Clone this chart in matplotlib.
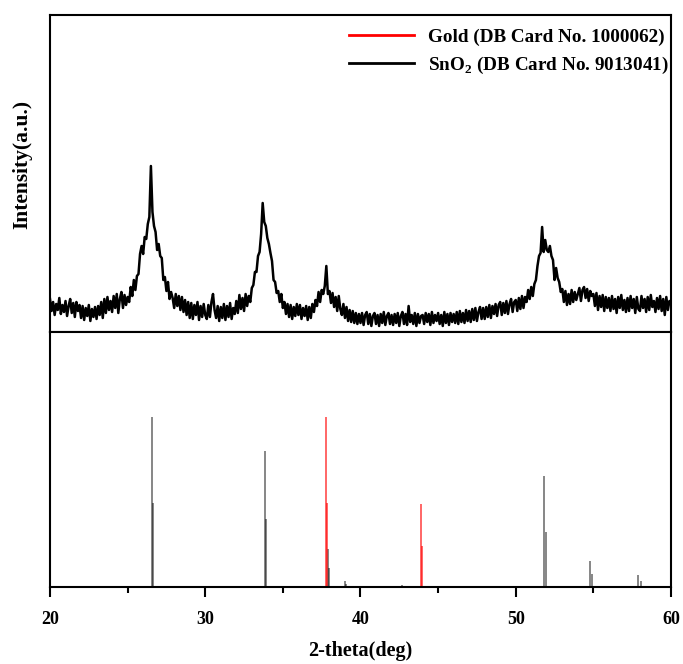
import numpy as np
import matplotlib
matplotlib.use("Agg")
import matplotlib.pyplot as plt

plt.rcParams['font.family'] = ['Liberation Serif', 'DejaVu Serif']
plt.rcParams['font.weight'] = 'bold'
plt.rcParams['mathtext.fontset'] = 'custom'
plt.rcParams['mathtext.rm'] = 'Liberation Serif:bold'
plt.rcParams['mathtext.bf'] = 'Liberation Serif:bold'

# measured pattern, 20.0 -> 60.0 deg in 0.1 deg steps (arbitrary units)
two_theta = np.round(np.arange(20.0, 60.05, 0.1), 1)
intensity = [
    33, 21, 30, 17, 28, 22, 34, 18, 27, 20,
    31, 16, 26, 33, 19, 29, 15, 30, 21, 27,
    14, 26, 12, 24, 16, 27, 11, 23, 15, 25,
    13, 26, 17, 30, 14, 33, 19, 35, 22, 31,
    20, 36, 24, 38, 19, 33, 40, 24, 37, 27,
    35, 30, 45, 36, 52, 42, 56, 58, 78, 86,
    78, 95, 93, 108, 115, 166, 120, 106, 100, 82,
    88, 76, 74, 52, 55, 41, 50, 33, 40, 34,
    24, 38, 26, 36, 22, 35, 20, 32, 17, 30,
    14, 29, 13, 27, 17, 30, 12, 26, 15, 28,
    17, 13, 27, 15, 30, 38, 22, 14, 26, 11,
    25, 14, 28, 12, 26, 15, 29, 13, 24, 18,
    31, 19, 37, 23, 34, 21, 38, 26, 36, 30,
    44, 47, 60, 60, 76, 80, 98, 129, 110, 106,
    94, 88, 79, 71, 52, 50, 39, 41, 30, 38,
    24, 30, 18, 28, 15, 27, 13, 25, 16, 28,
    17, 27, 13, 24, 16, 26, 12, 25, 14, 28,
    20, 32, 26, 40, 30, 42, 38, 46, 66, 38,
    41, 29, 39, 25, 35, 21, 36, 23, 17, 28,
    14, 25, 11, 22, 10, 21, 9, 19, 8, 18,
    9, 19, 7, 17, 20, 8, 18, 6, 16, 19,
    8, 17, 6, 18, 9, 20, 7, 16, 19, 8,
    17, 7, 18, 9, 19, 6, 16, 20, 8, 18,
    7, 26, 10, 17, 8, 19, 6, 18, 9, 16,
    17, 8, 19, 10, 18, 7, 20, 9, 17, 11,
    19, 8, 17, 6, 20, 9, 18, 7, 19, 10,
    18, 9, 20, 8, 21, 10, 19, 9, 22, 11,
    21, 10, 23, 12, 24, 11, 20, 25, 13, 24,
    13, 25, 15, 27, 14, 26, 18, 28, 16, 27,
    30, 17, 29, 19, 31, 18, 28, 33, 20, 30,
    32, 21, 34, 23, 36, 24, 35, 30, 42, 33,
    45, 36, 48, 52, 66, 76, 79, 105, 80, 92,
    82, 80, 86, 76, 72, 52, 64, 54, 50, 40,
    43, 30, 41, 27, 38, 28, 42, 30, 40, 32,
    38, 44, 31, 42, 45, 34, 43, 31, 41, 36,
    38, 26, 39, 22, 36, 25, 37, 21, 35, 24,
    34, 21, 36, 23, 33, 19, 35, 24, 37, 22,
    32, 20, 34, 21, 36, 24, 33, 19, 35, 23,
    21, 36, 24, 33, 20, 35, 22, 37, 25, 31,
    20, 34, 23, 36, 21, 33, 17, 35, 22, 31,
    29,
]

# reference sticks
gold_pos = [37.76, 37.85, 43.87, 43.98]
gold_int = [170, 84, 83, 41]
sno2_pos = [26.57, 26.63, 33.87, 33.93, 37.93, 38.00, 39.00, 39.05,
            42.65, 51.82, 51.95, 54.80, 54.93, 57.90, 58.05]
sno2_int = [170, 84, 136, 68, 38, 19, 6, 3,
            2, 111, 55, 26, 13, 12, 6]

fig = plt.figure(figsize=(6.83, 6.64), dpi=100)
gs = fig.add_gridspec(2, 1, height_ratios=[317, 255], hspace=0,
                      left=0.0732, right=0.9824, top=0.9774, bottom=0.116)
ax1 = fig.add_subplot(gs[0])
ax2 = fig.add_subplot(gs[1], sharex=ax1)

ax1.plot(two_theta, intensity, color='black', lw=1.8)
ax1.set_ylim(0, 317)
ax1.set_yticks([])
ax1.tick_params(axis='x', which='both', bottom=False, labelbottom=False)

ax2.vlines(sno2_pos, 0, sno2_int, color='black', alpha=0.6, lw=1.1)
ax2.vlines(gold_pos, 0, gold_int, color='red', alpha=0.6, lw=1.4)
ax2.set_ylim(0, 255)
ax2.set_yticks([])
ax2.set_xlim(20, 60)
ax2.set_xticks([20, 30, 40, 50, 60])
ax2.set_xticks([25, 35, 45, 55], minor=True)
ax2.tick_params(axis='x', which='major', length=7, width=1.5, pad=10, labelsize=13)
ax2.tick_params(axis='x', which='minor', length=4, width=1.5)
for lab in ax2.get_xticklabels():
    lab.set_fontweight('bold')

for ax in (ax1, ax2):
    for s in ax.spines.values():
        s.set_linewidth(1.5)

ax2.set_xlabel('2-theta(deg)', fontsize=14.5, fontweight='bold', labelpad=10)
fig.text(0.032, 0.752, 'Intensity(a.u.)', rotation=90, fontsize=15.5,
         fontweight='bold', ha='center', va='center')

h1, = ax1.plot([], [], color='red', lw=2)
h2, = ax1.plot([], [], color='black', lw=2)
ax1.legend([h1, h2], ['Gold (DB Card No. 1000062)', r'SnO$_{2}$ (DB Card No. 9013041)'],
           loc='upper right', bbox_to_anchor=(1.005, 0.975), frameon=False,
           handlelength=3.4, handletextpad=0.7, borderaxespad=0, borderpad=0.3,
           labelspacing=0.45, prop={'weight': 'bold', 'size': 13.8})

fig.savefig('out.png', dpi=100)
